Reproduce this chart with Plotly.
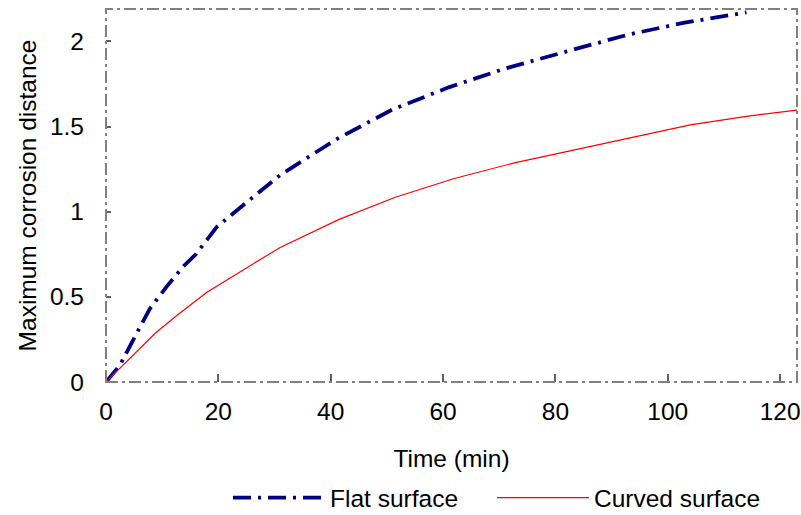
import plotly.graph_objects as go

# Flat surface: maximum corrosion distance vs time
flat_time = [0, 2.5, 5.2, 7.8, 10.8, 13.8, 16, 19.7, 25.6, 31, 41, 51, 61, 71, 83, 93, 103, 114]
flat_dist = [0, 0.10, 0.27, 0.43, 0.56, 0.68, 0.75, 0.91, 1.07, 1.215, 1.425, 1.60, 1.73, 1.84, 1.95, 2.04, 2.11, 2.17]

# Curved surface
curved_time = [0, 8.7, 12.6, 17.9, 25, 31, 41.5, 51.5, 62, 72.5, 83, 93.5, 104, 114, 124]
curved_dist = [0, 0.285, 0.39, 0.525, 0.67, 0.79, 0.955, 1.085, 1.195, 1.285, 1.36, 1.435, 1.51, 1.56, 1.60]

x_ticks = [0, 20, 40, 60, 80, 100, 120]
y_ticks = [0, 0.5, 1, 1.5, 2]
y_tick_text = ["0", "0.5", "1", "1.5", "2"]

FONT = "Liberation Sans, Arial, sans-serif"
FS = 24.5

fig = go.Figure()
fig.add_trace(go.Scatter(
    x=flat_time, y=flat_dist, mode="lines", name="Flat surface", legend="legend",
    line=dict(color="#000080", width=3.8, dash="18px,7px,3px,7px"),
))
fig.add_trace(go.Scatter(
    x=curved_time, y=curved_dist, mode="lines", name="Curved surface", legend="legend2",
    line=dict(color="#FF0000", width=1.2),
))

# dash-dot frame around the plot area
fig.add_shape(type="rect", xref="paper", yref="paper", x0=0, y0=0, x1=1, y1=1,
              line=dict(color="#808080", width=2, dash="12px,4px,3px,4px"), layer="above")

legend_common = dict(orientation="h", xanchor="left", y=-0.31, yanchor="middle",
                     itemwidth=92, font=dict(size=FS), bgcolor="rgba(0,0,0,0)")

fig.update_layout(
    width=801, height=515,
    margin=dict(l=106, r=4, t=9, b=133, autoexpand=False),
    paper_bgcolor="white", plot_bgcolor="white",
    font=dict(family=FONT, size=FS, color="black"),
    showlegend=True,
    legend=dict(x=0.1766, **legend_common),
    legend2=dict(x=0.5586, **legend_common),
)
fig.update_xaxes(
    range=[0, 123], tickvals=x_ticks, ticks="inside", ticklen=8, tickwidth=1.5,
    tickcolor="#606060", showgrid=False, zeroline=False, showline=False,
    ticklabelstandoff=12, automargin=False,
    title=dict(text="Time (min)", standoff=26, font=dict(size=FS)),
)
fig.update_yaxes(
    range=[0, 2.19], tickvals=y_ticks, ticktext=y_tick_text, ticks="inside", ticklen=5,
    tickwidth=1.5, tickcolor="#606060", showgrid=False, zeroline=False, showline=False,
    ticklabelstandoff=21, automargin=False,
    title=dict(text="Maximum corrosion distance", standoff=6, font=dict(size=FS)),
)

fig.write_html("out.html")
